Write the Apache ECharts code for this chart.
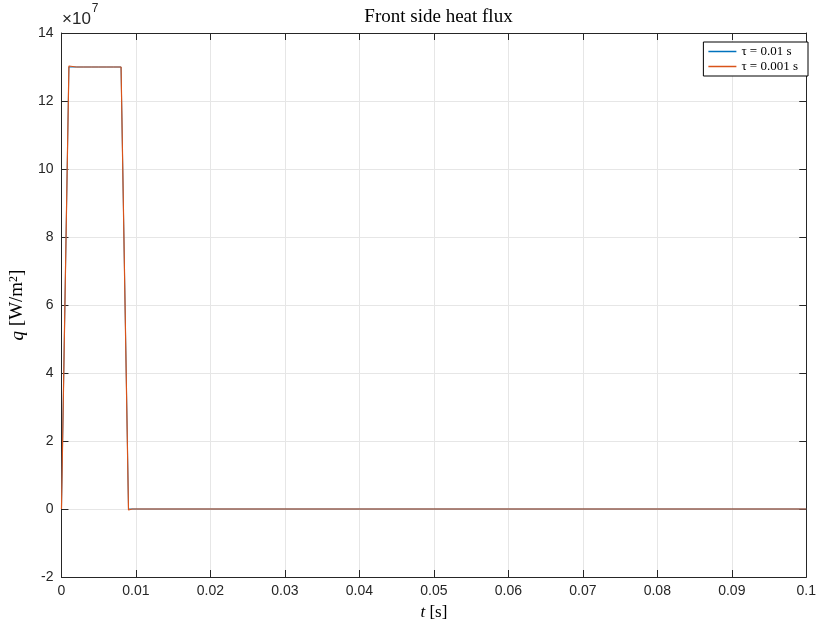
<html>
<head>
<meta charset="UTF-8">
<title>Front side heat flux</title>
<script src="https://cdn.jsdelivr.net/npm/echarts@6/dist/echarts.min.js"></script>
<style>
  html, body { margin: 0; padding: 0; background: #fff; }
  #chart { width: 819px; height: 626px; }
</style>
</head>
<body>
<div id="chart"></div>
<script>
// time points [s] and heat flux [W/m^2]
var tCoarse = [0, 0.001, 0.002, 0.003, 0.004, 0.005, 0.006, 0.007, 0.008, 0.009, 0.01, 0.02, 0.03, 0.04, 0.05, 0.06, 0.07, 0.08, 0.09, 0.1];
var qCoarse = [0, 1.3e8, 1.3e8, 1.3e8, 1.3e8, 1.3e8, 1.3e8, 1.3e8, 1.3e8, 0, 0, 0, 0, 0, 0, 0, 0, 0, 0, 0];

var tFine = [0, 0.001, 0.0012, 0.002, 0.003, 0.004, 0.005, 0.006, 0.007, 0.008, 0.009, 0.0095, 0.01, 0.02, 0.03, 0.04, 0.05, 0.06, 0.07, 0.08, 0.09, 0.1];
var qFine = [0, 1.303e8, 1.3e8, 1.3e8, 1.3e8, 1.3e8, 1.3e8, 1.3e8, 1.3e8, 1.3e8, -0.03e7, 0, 0, 0, 0, 0, 0, 0, 0, 0, 0, 0];

var seriesNames = ['τ = 0.01 s', 'τ = 0.001 s'];

function pairs(t, q) {
  var out = [];
  for (var i = 0; i < t.length; i++) out.push([t[i], q[i]]);
  return out;
}

var axisCol = '#262626';
var sans = '"Liberation Sans", Arial, sans-serif';
var serif = '"Liberation Serif", "DejaVu Serif", serif';

var myChart = echarts.init(document.getElementById('chart'));

var boxAxis = {
  axisLine: { show: true, onZero: false, lineStyle: { color: axisCol } },
  axisTick: { show: true, inside: true, length: 7, lineStyle: { color: axisCol } },
  axisLabel: { show: false },
  splitLine: { show: false }
};

var option = {
  animation: false,
  backgroundColor: '#fff',
  title: {
    text: 'Front side heat flux',
    left: 433.5,
    textAlign: 'center',
    top: 3,
    textStyle: { fontFamily: serif, fontSize: 19, fontWeight: 'normal', color: '#000' }
  },
  legend: {
    orient: 'vertical',
    right: 11,
    top: 42,
    data: seriesNames,
    icon: 'rect',
    itemWidth: 28,
    itemHeight: 1.5,
    itemGap: 2,
    padding: [3, 10, 3, 5],
    borderColor: '#000',
    borderWidth: 1,
    borderRadius: 0,
    backgroundColor: '#fff',
    textStyle: { fontFamily: serif, fontSize: 13, color: '#000' }
  },
  grid: { left: 60, right: 12, top: 33, bottom: 48, containLabel: false },
  graphic: [{
    type: 'text',
    left: 62,
    top: 3,
    style: {
      text: '{a|×10}{b|7}',
      rich: {
        a: { fontFamily: sans, fontSize: 17, fill: axisCol, padding: [8, 1, 0, 0] },
        b: { fontFamily: sans, fontSize: 12, fill: axisCol, verticalAlign: 'top' }
      }
    }
  }],
  xAxis: [{
    type: 'value',
    min: 0, max: 0.1, interval: 0.01,
    name: '{i|t} [s]',
    nameLocation: 'middle',
    nameGap: 27,
    nameTextStyle: {
      fontFamily: serif, fontSize: 17, color: '#000',
      rich: { i: { fontFamily: serif, fontStyle: 'italic', fontSize: 17 } }
    },
    axisLine: { show: true, onZero: false, lineStyle: { color: axisCol } },
    axisTick: { show: true, inside: true, length: 7, lineStyle: { color: axisCol } },
    axisLabel: { fontFamily: sans, fontSize: 14, color: axisCol, margin: 7,
      formatter: function (v) { return v === 0 ? '0' : String(+v.toFixed(2)); } },
    splitLine: { show: true, lineStyle: { color: '#e6e6e6' } }
  }, Object.assign({
    type: 'value', position: 'top',
    min: 0, max: 0.1, interval: 0.01
  }, boxAxis)],
  yAxis: [{
    type: 'value',
    min: -2e7, max: 14e7, interval: 2e7,
    name: '{i|q} [W/m{s|2}]',
    nameLocation: 'middle',
    nameGap: 31,
    nameTextStyle: {
      fontFamily: serif, fontSize: 19, color: '#000',
      rich: {
        i: { fontFamily: serif, fontStyle: 'italic', fontSize: 19 },
        s: { fontFamily: serif, fontSize: 12, verticalAlign: 'top', padding: [0, 0, 6, 0] }
      }
    },
    axisLine: { show: true, onZero: false, lineStyle: { color: axisCol } },
    axisTick: { show: true, inside: true, length: 7, lineStyle: { color: axisCol } },
    axisLabel: { fontFamily: sans, fontSize: 14, color: axisCol, margin: 8,
      formatter: function (v) { return String(Math.round(v / 1e7)); } },
    splitLine: { show: true, lineStyle: { color: '#e6e6e6' } }
  }, Object.assign({
    type: 'value', position: 'right',
    min: -2e7, max: 14e7, interval: 2e7
  }, boxAxis)],
  series: [{
    name: seriesNames[0],
    type: 'line',
    data: pairs(tCoarse, qCoarse),
    showSymbol: false,
    color: '#0072BD',
    lineStyle: { width: 1, color: '#0072BD' }
  }, {
    name: seriesNames[1],
    type: 'line',
    data: pairs(tFine, qFine),
    showSymbol: false,
    color: '#D95319',
    lineStyle: { width: 1.2, color: '#D95319' }
  }]
};

myChart.setOption(option);
</script>
</body>
</html>
